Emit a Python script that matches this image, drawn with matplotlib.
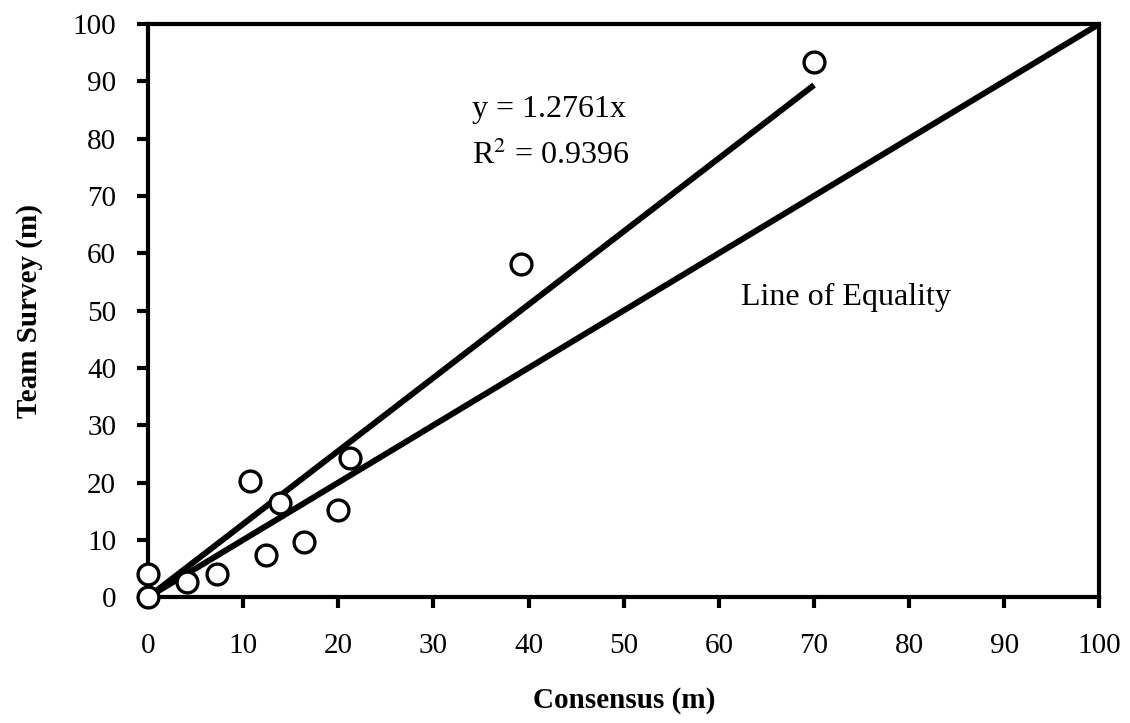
import matplotlib
matplotlib.use("Agg")
import matplotlib.pyplot as plt
import numpy as np

# datos
consenso = [0, 0, 4.1, 7.3, 10.7, 12.4, 13.9, 16.4, 20.0, 21.2, 39.2, 70.0]
equipo = [0, 4.0, 2.6, 4.0, 20.3, 7.3, 16.4, 9.7, 15.2, 24.2, 58.2, 93.3]
pendiente = 1.2761
r2 = 0.9396
ticks = list(range(0, 101, 10))

plt.rcParams["font.family"] = ["Liberation Serif", "DejaVu Serif"]
plt.rcParams["mathtext.fontset"] = "stix"

fig = plt.figure(figsize=(11.3, 7.23), dpi=100)
ax = fig.add_axes([0.131, 0.174, 0.842, 0.793])

# linea de regresion y linea de igualdad
xr = np.array([0, max(consenso)])
ax.plot(xr, pendiente * xr, color="black", lw=4.3, solid_capstyle="butt", zorder=2)
ax.plot([0, 100], [0, 100], color="black", lw=4.3, solid_capstyle="butt", zorder=2)

ax.plot(consenso, equipo, "o", ms=15, mfc="white", mec="black", mew=2.4,
        clip_on=False, zorder=3)

ax.text(34.0, 85.0, f"y = {pendiente}x", fontsize=23, va="center")
ax.text(34.0, 77.0, f"R$^2$ = {r2}", fontsize=23, va="center")
ax.text(62.3, 52.2, "Line of Equality", fontsize=23, va="center")

ax.set_xlim(0, 100)
ax.set_ylim(0, 100)
ax.set_xticks(ticks)
ax.set_yticks(ticks)
ax.tick_params(direction="out", length=8, width=3, labelsize=21, pad=18)
ax.tick_params(axis="y", pad=15)
for s in ax.spines.values():
    s.set_linewidth(3)

ax.set_xlabel("Consensus (m)", fontsize=21, fontweight="bold", labelpad=20)
ax.set_ylabel("Team Survey (m)", fontsize=21, fontweight="bold", labelpad=21)

fig.savefig("out.png", dpi=100)
